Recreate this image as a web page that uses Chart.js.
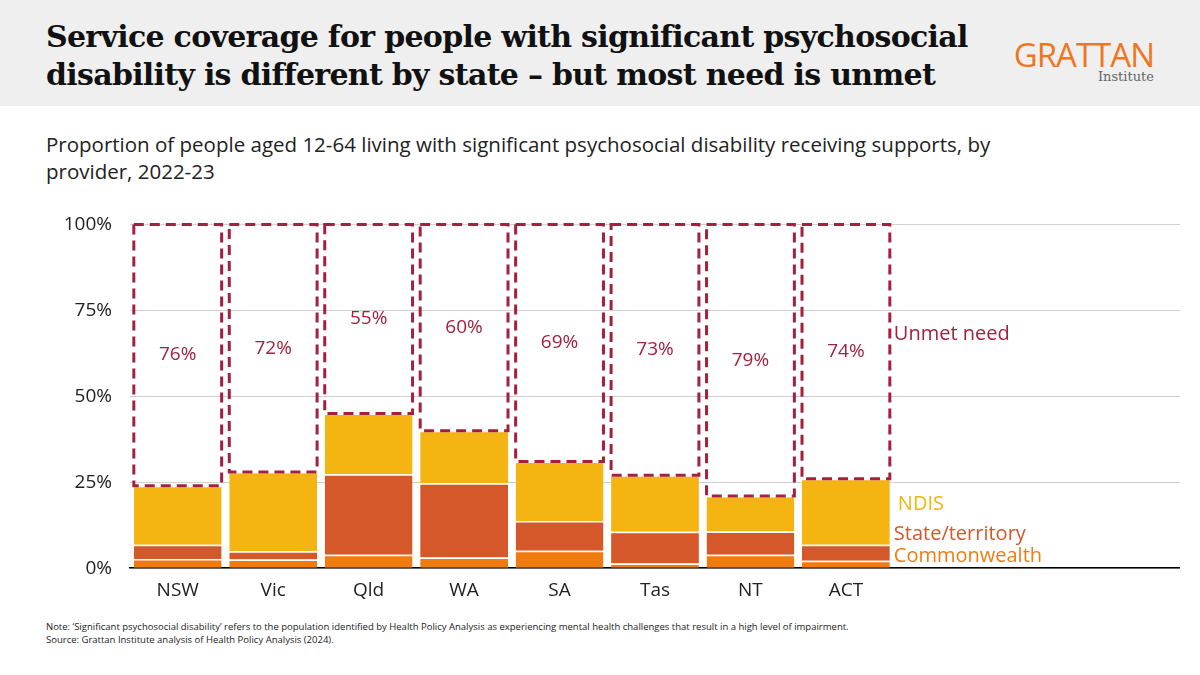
<!DOCTYPE html>
<html><head><meta charset="utf-8">
<script src="https://cdn.jsdelivr.net/npm/chart.js@4"></script>
<style>
body{margin:0;width:1200px;height:675px;background:#fff;font-family:"Open Sans",sans-serif;overflow:hidden;position:relative}
#head{position:absolute;left:0;top:0;width:1200px;height:106px;background:#efefef}
#title{position:absolute;left:46px;top:18px;font-family:"DejaVu Serif",serif;font-weight:bold;font-size:30px;line-height:38px;color:#111;letter-spacing:-0.7px}
#logo{position:absolute;right:46px;top:40px;text-align:right;color:#f0761e;font-size:33px;line-height:30px;letter-spacing:-1px}
#logo small{display:block;font-family:"DejaVu Serif",serif;font-size:13px;line-height:14px;color:#666;letter-spacing:0}
#sub{position:absolute;left:46px;top:131px;font-size:20.5px;line-height:27px;color:#222;width:1020px}
#note{position:absolute;left:46px;top:620px;font-size:9.5px;line-height:13px;color:#222}
#wrap{position:absolute;left:16px;top:195px;width:1164px;height:410px}
</style></head><body>
<div id="head"></div>
<div id="title">Service coverage for people with significant psychosocial<br>disability is different by state – but most need is unmet</div>
<div id="logo">GRATTAN<small>Institute</small></div>
<div id="sub">Proportion of people aged 12-64 living with significant psychosocial disability receiving supports, by provider, 2022-23</div>
<div id="wrap"><canvas id="c"></canvas></div>
<div id="note">Note: ‘Significant psychosocial disability’ refers to the population identified by Health Policy Analysis as experiencing mental health challenges that result in a high level of impairment.<br>Source: Grattan Institute analysis of Health Policy Analysis (2024).</div>
<script>
const states = ['NSW','Vic','Qld','WA','SA','Tas','NT','ACT','','',''];
const commonwealth = [2.7,2.5,3.9,3.1,5.1,1.4,3.9,2.2];
const stateTerritory = [4.1,2.4,23.4,21.6,8.6,9.2,6.8,4.6];
const ndis = [17.2,23.1,17.7,15.3,17.3,16.4,10.3,19.2];
const unmet = [76,72,55,60,69,73,79,74];
const yTicks = [0,25,50,75,100];

const MAROON = '#a3213f';

const overlay = {
  id:'overlay',
  afterDatasetsDraw(chart){
    const c = chart.ctx, meta = chart.getDatasetMeta(3);
    c.save();
    c.strokeStyle = MAROON; c.lineWidth = 3; c.setLineDash([10,6]);
    meta.data.forEach((b,i)=>{
      const l = b.x - b.width/2, r = b.x + b.width/2;
      c.strokeRect(l, b.y, r-l, b.base-b.y);
      c.fillStyle = MAROON; c.font = '19px "Open Sans"';
      c.textAlign = 'center'; c.textBaseline = 'middle';
      c.fillText(unmet[i]+'%', b.x, (b.y+b.base)/2);
    });
    c.setLineDash([]);
    const last = meta.data[7], x = last.x + last.width/2 + 4, ys = chart.scales.y;
    c.textAlign='left'; c.font='20px "Open Sans"';
    c.fillText('Unmet need', x, ys.getPixelForValue(68));
    c.fillStyle='#f2b50f'; c.fillText('NDIS', x+4, ys.getPixelForValue(18.5));
    c.fillStyle='#d4582a'; c.fillText('State/territory', x, ys.getPixelForValue(10));
    c.fillStyle='#f07c10'; c.fillText('Commonwealth', x, ys.getPixelForValue(3.5));
    c.restore();
  }
};

new Chart(document.getElementById('c'), {
  type:'bar',
  data:{labels:states, datasets:[
    {label:'Commonwealth', data:commonwealth, backgroundColor:'#f07c10'},
    {label:'State/territory', data:stateTerritory, backgroundColor:'#d4582a'},
    {label:'NDIS', data:ndis, backgroundColor:'#f4b512'},
    {label:'Unmet need', data:unmet, backgroundColor:'rgba(0,0,0,0)'}
  ].map(d=>Object.assign(d,{borderColor:'#fff',borderWidth:{top:1.5},borderSkipped:'bottom',categoryPercentage:1,barPercentage:0.92}))},
  options:{
    responsive:true, maintainAspectRatio:false, animation:false,
    layout:{padding:{top:10,right:0,left:22}},
    plugins:{legend:{display:false},tooltip:{enabled:false}},
    scales:{
      x:{stacked:true, grid:{display:false}, border:{color:'#000',width:1.5},
        ticks:{maxRotation:0,minRotation:0,color:'#222',font:{size:19,family:'"Open Sans"'}}},
      y:{stacked:true, min:0, max:100, afterBuildTicks:a=>{a.ticks=yTicks.map(v=>({value:v}))},
        afterFit:a=>{a.width=92},
        grid:{color:'#cfcfcf',drawTicks:false}, border:{display:false},
        ticks:{padding:18,color:'#222',font:{size:19,family:'"Open Sans"'},callback:v=>v+'%'}}
    }
  },
  plugins:[overlay]
});
</script>
</body></html>
